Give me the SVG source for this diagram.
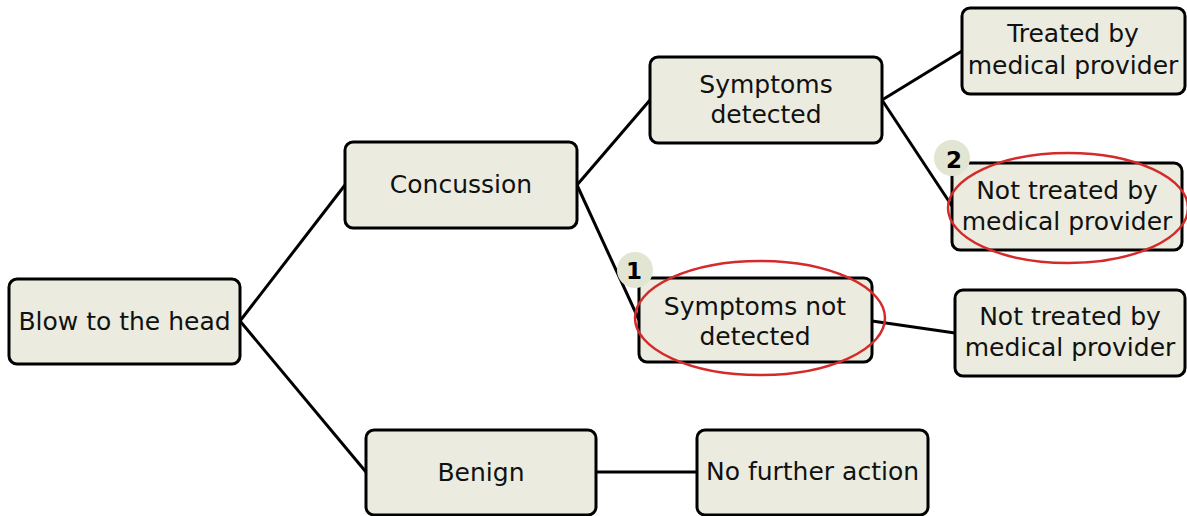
<svg xmlns="http://www.w3.org/2000/svg" width="1187" height="516" viewBox="0 0 1187 516">
<style>
.box{fill:#ebecdf;stroke:#000;stroke-width:3}
.t{font-family:"DejaVu Sans",Verdana,sans-serif;font-size:25px;fill:#111;text-anchor:middle}
.c{stroke:#000;stroke-width:3;fill:none}
.badge{fill:#e3e5d3;stroke:none}
.bt{font-family:"DejaVu Sans",Verdana,sans-serif;font-size:23px;font-weight:bold;fill:#000;text-anchor:middle}
.red{fill:none;stroke:#d42a2a;stroke-width:2.5}
</style>
<rect width="1187" height="516" fill="#fff"/>
<g id="connectors">
<line class="c" x1="240" y1="321" x2="345" y2="185"/>
<line class="c" x1="240" y1="321" x2="366" y2="472"/>
<line class="c" x1="577" y1="185" x2="650" y2="100"/>
<line class="c" x1="577" y1="185" x2="639" y2="320"/>
<line class="c" x1="882" y1="100" x2="962" y2="51"/>
<line class="c" x1="882" y1="100" x2="952" y2="206"/>
<line class="c" x1="872" y1="321" x2="955" y2="333"/>
<line class="c" x1="596" y1="472" x2="697" y2="472"/>
</g>
<g id="n-blow"><rect class="box" x="9" y="279" width="231" height="85" rx="8"/><text class="t" x="124.5" y="330">Blow to the head</text></g>
<g id="n-concussion"><rect class="box" x="345" y="142" width="232" height="86" rx="8"/><text class="t" x="461" y="193">Concussion</text></g>
<g id="n-benign"><rect class="box" x="366" y="430" width="230" height="85" rx="8"/><text class="t" x="481" y="481">Benign</text></g>
<g id="n-detected"><rect class="box" x="650" y="57" width="232" height="86" rx="8"/><text class="t" x="766" y="93">Symptoms</text><text class="t" x="766" y="123">detected</text></g>
<g id="n-notdetected"><rect class="box" x="639" y="278" width="233" height="84" rx="8"/><text class="t" x="755" y="315">Symptoms not</text><text class="t" x="755" y="345">detected</text></g>
<g id="n-treated"><rect class="box" x="962" y="8" width="223" height="86" rx="8"/><text class="t" x="1073" y="42">Treated by</text><text class="t" x="1073" y="74">medical provider</text></g>
<g id="n-nottreated2"><rect class="box" x="952" y="163" width="230" height="87" rx="8"/><text class="t" x="1067" y="199">Not treated by</text><text class="t" x="1067" y="230">medical provider</text></g>
<g id="n-nottreated1"><rect class="box" x="955" y="290" width="230" height="86" rx="8"/><text class="t" x="1070" y="325">Not treated by</text><text class="t" x="1070" y="356">medical provider</text></g>
<g id="n-nofurther"><rect class="box" x="697" y="430" width="231" height="85" rx="8"/><text class="t" x="812.5" y="480">No further action</text></g>
<g id="badge-1"><circle class="badge" cx="635" cy="270" r="18"/><text class="bt" x="634" y="279">1</text></g>
<g id="badge-2"><circle class="badge" cx="952" cy="158" r="18"/><text class="bt" x="954" y="168">2</text></g>
<g id="highlights">
<ellipse class="red" cx="760" cy="318" rx="125" ry="57"/>
<ellipse class="red" cx="1068" cy="208" rx="120" ry="55"/>
</g>
</svg>
